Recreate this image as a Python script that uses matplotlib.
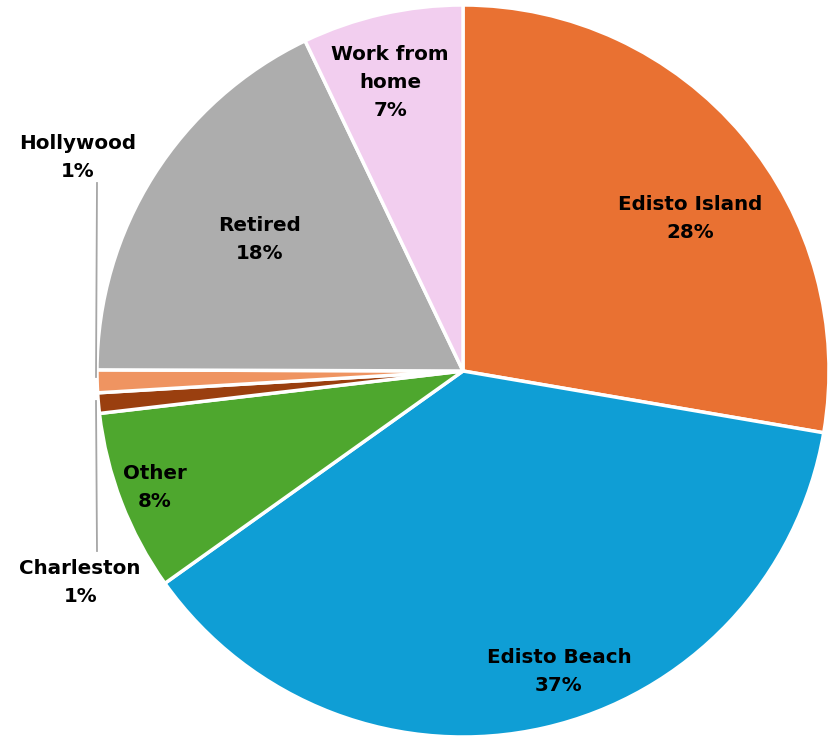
import matplotlib

matplotlib.use("Agg")

import matplotlib.pyplot as plt

# Data (percent shares)
categories = ["Edisto Island", "Edisto Beach", "Other", "Charleston", "Hollywood", "Retired", "Work from\nhome"]
shares = [27.7, 37.45, 8.0, 0.9, 1.0, 17.85, 7.1]
colors = ["#E97132", "#0F9ED5", "#4EA72E", "#9A3F0F", "#EF9461", "#ADADAD", "#F2CEEF"]

# label centres in pie units (radius = 1)
label_pos = [
    (0.620, 0.418),
    (0.262, -0.820),
    (-0.842, -0.317),
    (-1.046, -0.579),
    (-1.052, 0.582),
    (-0.555, 0.359),
    (-0.199, 0.787),
]

W, H = 836, 737
cx, cy, R = 463, 371, 366

fig = plt.figure(figsize=(W / 100, H / 100), dpi=100)
fig.patch.set_facecolor("white")
ax = fig.add_axes([0, 0, 1, 1])

ax.pie(
    shares,
    colors=colors,
    startangle=90,
    counterclock=False,
    radius=1,
    wedgeprops=dict(edgecolor="white", linewidth=2.5),
)

ax.set_xlim(-cx / R, (W - cx) / R)
ax.set_ylim(-(H - cy) / R, cy / R)
ax.set_aspect("equal")
ax.axis("off")

for name, val, (x, y) in zip(categories, shares, label_pos):
    ax.text(x, y, f"{name}\n{val:.0f}%", ha="center", va="center",
            fontsize=14.3, fontweight="bold", color="black", linespacing=1.6)

# leader lines for the two tiny slices
def px(x, y):
    return (x - cx) / R, (cy - y) / R

lc = "#A6A6A6"
x1, y1 = px(97, 183)
x2, y2 = px(96, 377)
ax.plot([x1, x2], [y1, y2], color=lc, linewidth=1.3)
x1, y1 = px(96, 401)
x2, y2 = px(97, 551)
ax.plot([x1, x2], [y1, y2], color=lc, linewidth=1.3)

plt.savefig("out.png", dpi=100)
